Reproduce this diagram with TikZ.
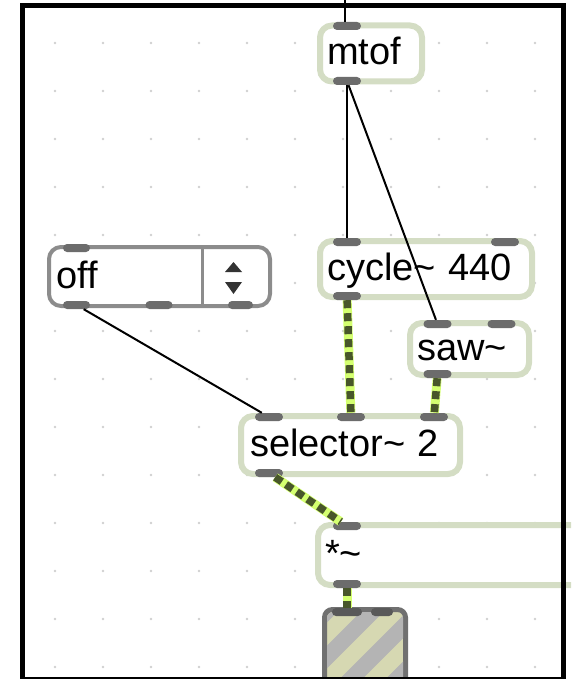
\documentclass[tikz,border=0pt]{standalone}
\usepackage{fontspec}
\setmainfont{Liberation Sans}
\definecolor{objedge}{RGB}{212,221,196}
\definecolor{menugray}{RGB}{140,140,140}
\definecolor{portgray}{RGB}{108,108,108}
\definecolor{sigpale}{RGB}{212,255,112}
\definecolor{sigdark}{RGB}{72,86,42}
\definecolor{dotgray}{RGB}{208,208,208}
\definecolor{meterrim}{RGB}{112,112,112}
\definecolor{meterkhaki}{RGB}{214,216,178}
\definecolor{metergray}{RGB}{180,180,180}

\begin{document}
\begin{tikzpicture} [x = 1pt, y = -1pt,
  maxobj/.style = {draw = objedge, line width = 6pt, fill = white, rounded corners = 12pt,
    minimum height = 56pt, inner xsep = 7pt, inner ysep = 4pt, text height = 25pt,
    text depth = 2pt, align = left, font = \fontsize{38}{40}\selectfont},
  port/.style = {fill = portgray, rounded corners = 4pt, minimum width = 28pt,
    minimum height = 8pt, inner sep = 0pt},
  ctl/.style = {line width = 2pt},
  sig/.style = {preaction = {draw = sigpale, line width = 9pt}, draw = sigdark,
    line width = 7.5pt, dash pattern = on 8pt off 5pt}]
\useasboundingbox (0, 0) rectangle (571, 679);
\clip (0, 0) rectangle (571, 679);
\foreach \x in {55, 103, ..., 535}
  \foreach \y in {43, 91, ..., 667}
    \fill[dotgray] (\x, \y) circle [radius = 1.3pt];
\node[maxobj, text width = 88pt] (mtof) at (371, 53.5) {mtof};
\node[maxobj, text width = 198pt] (cycle) at (426, 269) {cycle\textasciitilde{} 440};
\node[maxobj, text width = 105pt, minimum height = 52pt] (saw) at (469.5, 349) {saw\textasciitilde};
\node[maxobj, text width = 201pt, inner xsep = 9pt, minimum height = 58pt] (selector) at (350.5, 445) {selector\textasciitilde{} 2};
\node[maxobj, text width = 308pt, minimum height = 60pt] (mul) at (479, 555) {*\textasciitilde};
\node[maxobj, draw = menugray, line width = 4pt, text width = 207pt, minimum height = 59pt] (umenu) at (159.5, 276.5) {off};
\draw[menugray, line width = 3pt] (202, 247) -- (202, 306);
\fill[black!80] (225, 272) -- (242, 272) -- (233.5, 262) -- cycle;
\fill[black!80] (225, 282) -- (242, 282) -- (233.5, 294) -- cycle;
\node[draw = meterrim, line width = 5pt, rounded corners = 8pt, minimum width = 81pt,
  minimum height = 111pt, inner sep = 0pt, fill = meterkhaki] (meter) at (365, 665) {};
\begin{scope}
  \clip[rounded corners = 6pt] (327, 612) rectangle (403, 722);
  \foreach \c in {846, 892, ..., 1120}
    \draw[metergray, line width = 16pt] (300, \c - 300) -- (440, \c - 440);
\end{scope}
\node[port] (mtofin) at (347, 26) {};
\node[port] (mtofout) at (347, 81) {};
\node[port] (cyclein) at (347, 242) {};
\node[port] (cycleinr) at (505, 242) {};
\node[port] (cycleout) at (347, 296) {};
\node[port] (sawin) at (437.5, 324) {};
\node[port] (sawinr) at (501.5, 324) {};
\node[port] (sawout) at (437.5, 374) {};
\node[port] (selin) at (269, 417) {};
\node[port] (selinm) at (351, 417) {};
\node[port] (selinr) at (434, 417) {};
\node[port] (selout) at (269, 473) {};
\node[port] (mulin) at (347, 526) {};
\node[port] (mulout) at (347, 584) {};
\node[port, minimum width = 27pt] (menuin) at (76.5, 248) {};
\node[port, minimum width = 27pt] (menuout) at (76.5, 305) {};
\node[port, minimum width = 27pt] (menuoutm) at (159, 305) {};
\node[port, minimum width = 25pt] (menuoutr) at (240.5, 305) {};
\node[port, fill = black!65, minimum width = 30pt] (meterin) at (347, 612) {};
\node[port, fill = black!65, minimum width = 22pt] (meterinr) at (382, 612) {};
\coordinate (src) at (345, 0);
\draw[ctl] (src) -- (src |- mtofin.north);
\draw[ctl] (mtofout) -- (cyclein);
\draw[ctl] (mtofout) -- (sawin);
\draw[ctl] (menuout) -- (selin);
\draw[sig] (cycleout) -- (selinm);
\draw[sig] (sawout) -- (selinr);
\draw[sig] (selout) -- (mulin);
\draw[sig] (mulout) -- (meterin);
\draw[line width = 5pt] (22.5, 5.5) rectangle (563, 679.5);
\end{tikzpicture}
\end{document}
